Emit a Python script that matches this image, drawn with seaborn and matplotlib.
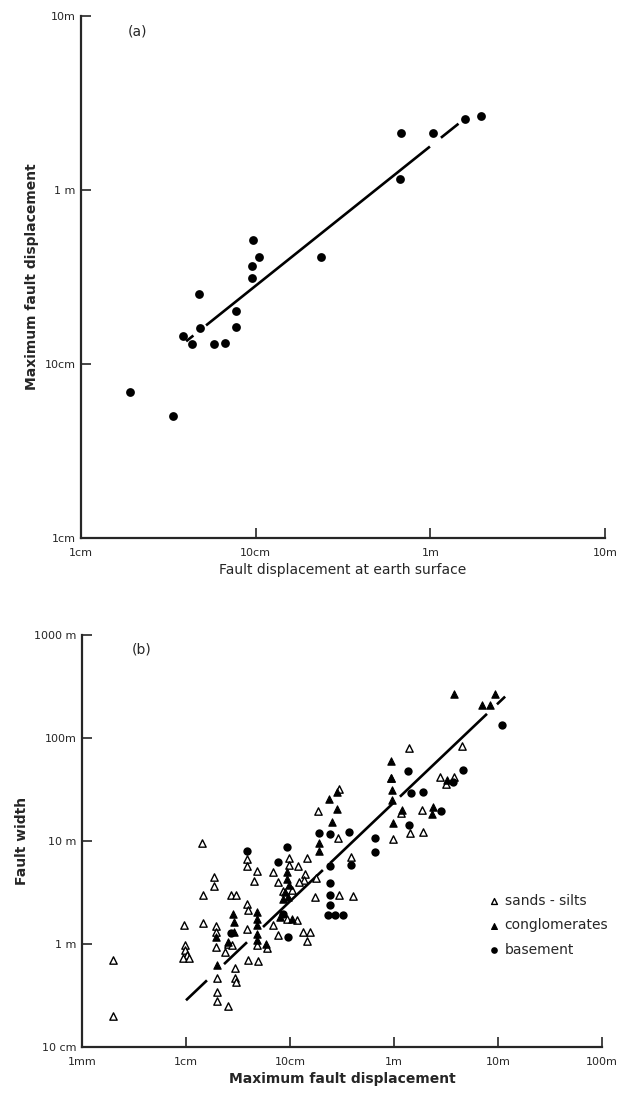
import numpy as np
import pandas as pd
import matplotlib
matplotlib.use("Agg")
import matplotlib.pyplot as plt
import seaborn as sns

# ---- panel (a): fault displacement at surface vs maximum displacement (metres)
a_surface = [0.019, 0.0336, 0.0384, 0.0431, 0.0472, 0.0479, 0.0577, 0.0669, 0.0776, 0.0776,
             0.0948, 0.0959, 0.0968, 0.105, 0.237, 0.669, 0.68, 1.04, 1.57, 1.94]
a_maxdisp = [0.069, 0.050, 0.145, 0.130, 0.253, 0.162, 0.131, 0.132, 0.202, 0.163,
             0.311, 0.367, 0.518, 0.414, 0.414, 1.16, 2.12, 2.12, 2.57, 2.66]
# fitted line (end points) and the pieces actually drawn (x ranges)
a_fit_x = [0.040, 1.6]
a_fit_y = [0.135, 2.6]
a_pieces = [(0.040, 0.044), (0.052, 0.995), (1.15, 1.45)]
a_xticks = [0.01, 0.1, 1, 10]
a_xlabels = ["1cm", "10cm", "1m", "10m"]
a_yticks = [0.01, 0.1, 1, 10]
a_ylabels = ["1cm", "10cm", "1 m", "10m"]

# ---- panel (b): maximum fault displacement vs fault width (metres)
sand_x = [0.0020, 0.0020, 0.0142, 0.0187, 0.0187, 0.0145, 0.0271, 0.0303, 0.00964, 0.0147,
          0.0193, 0.0193, 0.0254, 0.0275, 0.0193, 0.0237, 0.00978, 0.00978, 0.0102, 0.00942,
          0.0108, 0.0197, 0.0197, 0.0197, 0.0252, 0.0296, 0.0296, 0.0303, 0.0384, 0.0384,
          0.0477, 0.0451, 0.0384, 0.0392, 0.0384, 0.0479, 0.0392, 0.0495, 0.0597, 0.0679,
          0.0762, 0.069, 0.0773, 0.0973, 0.0985, 0.120, 0.145, 0.139, 0.137, 0.122,
          0.178, 0.172, 0.134, 0.156, 0.145, 0.187, 0.298, 0.292, 0.386, 0.298,
          0.401, 1.39, 0.973, 4.54, 2.77, 3.78, 3.14, 1.17, 1.85, 1.43,
          1.91, 0.929, 0.105, 0.0863, 0.0929, 0.116]
sand_y = [0.70, 0.202, 9.5, 4.46, 3.62, 2.97, 2.96, 2.96, 1.52, 1.61,
          1.48, 1.32, 1.01, 0.97, 0.925, 0.84, 0.974, 0.871, 0.78, 0.724,
          0.724, 0.471, 0.345, 0.28, 0.252, 0.589, 0.471, 0.425, 6.70, 5.77,
          5.16, 4.05, 2.46, 2.12, 1.41, 0.97, 0.70, 0.68, 0.905, 4.99,
          3.97, 1.52, 1.22, 6.88, 5.86, 5.67, 6.81, 4.80, 4.20, 3.99,
          4.39, 2.86, 1.31, 1.31, 1.06, 19.7, 31.8, 10.6, 7.0, 2.96,
          2.94, 80.4, 10.5, 83.3, 41.8, 41.8, 35.5, 18.8, 20.1, 11.9,
          12.1, 41.2, 3.31, 3.24, 1.76, 1.70]

cong_x = [3.78, 9.35, 7.06, 8.38, 0.935, 0.935, 0.957, 0.957, 0.973, 1.19,
          2.36, 2.31, 3.21, 0.285, 0.239, 0.285, 0.255, 0.189, 0.189, 0.0942,
          0.0929, 0.0984, 0.0895, 0.0964, 0.0857, 0.0802, 0.104, 0.0479, 0.0479, 0.0482,
          0.0479, 0.0479, 0.0587, 0.0285, 0.029, 0.029, 0.0197, 0.0193, 0.0252]
cong_y = [267, 269, 211, 211, 59.7, 41.2, 31.1, 24.9, 14.8, 20.0,
          21.2, 18.2, 38.8, 29.6, 25.5, 20.2, 15.3, 9.57, 7.92, 4.99,
          4.29, 3.70, 3.19, 2.86, 2.75, 1.83, 1.74, 2.05, 1.76, 1.54,
          1.26, 1.10, 1.01, 1.97, 1.64, 1.31, 0.627, 1.18, 1.05]

base_x = [11.0, 1.36, 4.64, 3.67, 1.45, 1.89, 2.83, 1.40, 0.656, 0.656,
          0.372, 0.243, 0.191, 0.384, 0.243, 0.243, 0.243, 0.243, 0.233, 0.271,
          0.326, 0.0942, 0.0762, 0.0384, 0.0964, 0.0863, 0.0271]
base_y = [135, 47.8, 48.5, 37.4, 28.9, 29.6, 19.6, 14.4, 10.6, 7.83,
          12.1, 11.7, 11.9, 5.86, 5.65, 3.88, 2.96, 2.37, 1.93, 1.90,
          1.90, 8.69, 6.23, 7.92, 1.17, 1.97, 1.29]

b_fit_x = [0.01, 11.7]
b_fit_y = [0.284, 252]
b_pieces = [(0.01, 0.0159), (0.0232, 0.0386), (0.055, 0.207), (0.243, 0.977),
            (1.14, 7.83), (9.77, 11.7)]
b_xticks = [0.001, 0.01, 0.1, 1, 10, 100]
b_xlabels = ["1mm", "1cm", "10cm", "1m", "10m", "100m"]
b_yticks = [0.1, 1, 10, 100, 1000]
b_ylabels = ["10 cm", "1 m", "10 m", "100m", "1000 m"]

sns.set_style("ticks")
plt.rcParams['font.family'] = ['DejaVu Sans']


def fit_line(fx, fy, x):
    k = np.log10(fy[1] / fy[0]) / np.log10(fx[1] / fx[0])
    return fy[0] * (np.asarray(x) / fx[0]) ** k


def style_axes(ax, xt, xl, yt, yl, lims_x, lims_y):
    ax.set_xscale('log')
    ax.set_yscale('log')
    ax.set_xlim(*lims_x)
    ax.set_ylim(*lims_y)
    ax.set_xticks(xt)
    ax.set_xticklabels(xl)
    ax.set_yticks(yt)
    ax.set_yticklabels(yl)
    ax.minorticks_off()
    ax.tick_params(direction='in', length=7, width=1.2, labelsize=8)
    ax.tick_params(axis='x', pad=7)
    ax.tick_params(axis='y', pad=4)
    for s in ['top', 'right']:
        ax.spines[s].set_visible(False)
    for s in ['left', 'bottom']:
        ax.spines[s].set_linewidth(1.6)


fig = plt.figure(figsize=(6.26, 10.93), dpi=100)

# panel (a)
ax_a = fig.add_axes([0.1294, 0.5078, 0.837, 0.4776])
df_a = pd.DataFrame({'surface': a_surface, 'maxdisp': a_maxdisp})
sns.scatterplot(data=df_a, x='surface', y='maxdisp', ax=ax_a, color='black',
                s=40, edgecolor='black', linewidth=0, zorder=3)
for x0, x1 in a_pieces:
    xs = [x0, x1]
    ax_a.plot(xs, fit_line(a_fit_x, a_fit_y, xs), color='black', lw=1.9,
              solid_capstyle='butt')
style_axes(ax_a, a_xticks, a_xlabels, a_yticks, a_ylabels, (0.01, 10), (0.01, 10))
ax_a.set_xlabel('Fault displacement at earth surface', fontsize=10, labelpad=4)
ax_a.set_ylabel('Maximum fault displacement', fontsize=10, fontweight='bold')
ax_a.text(0.09, 0.962, '(a)', transform=ax_a.transAxes, fontsize=10)

# panel (b)
ax_b = fig.add_axes([0.131, 0.0421, 0.8307, 0.377])
sns.scatterplot(x=sand_x, y=sand_y, ax=ax_b, marker='^', s=28, color='white',
                edgecolor='black', linewidth=1.0, label='sands - silts', zorder=3)
sns.scatterplot(x=cong_x, y=cong_y, ax=ax_b, marker='^', s=28, color='black',
                edgecolor='black', linewidth=0.8, label='conglomerates', zorder=4)
sns.scatterplot(x=base_x, y=base_y, ax=ax_b, marker='o', s=36, color='black',
                edgecolor='black', linewidth=0, label='basement', zorder=4)
for x0, x1 in b_pieces:
    xs = [x0, x1]
    ax_b.plot(xs, fit_line(b_fit_x, b_fit_y, xs), color='black', lw=1.9,
              solid_capstyle='butt', zorder=2)
style_axes(ax_b, b_xticks, b_xlabels, b_yticks, b_ylabels, (0.001, 100), (0.1, 1000))
ax_b.set_xlabel('Maximum fault displacement', fontsize=10, fontweight='bold', labelpad=4)
ax_b.set_ylabel('Fault width', fontsize=10, fontweight='bold')
ax_b.text(0.095, 0.955, '(b)', transform=ax_b.transAxes, fontsize=10)
ax_b.legend(loc='upper left', bbox_to_anchor=(0.77, 0.385), frameon=False,
            fontsize=10, handlelength=0.8, handletextpad=0.4, labelspacing=0.75,
            markerscale=0.8, borderaxespad=0)

fig.savefig('out.png', dpi=100)
